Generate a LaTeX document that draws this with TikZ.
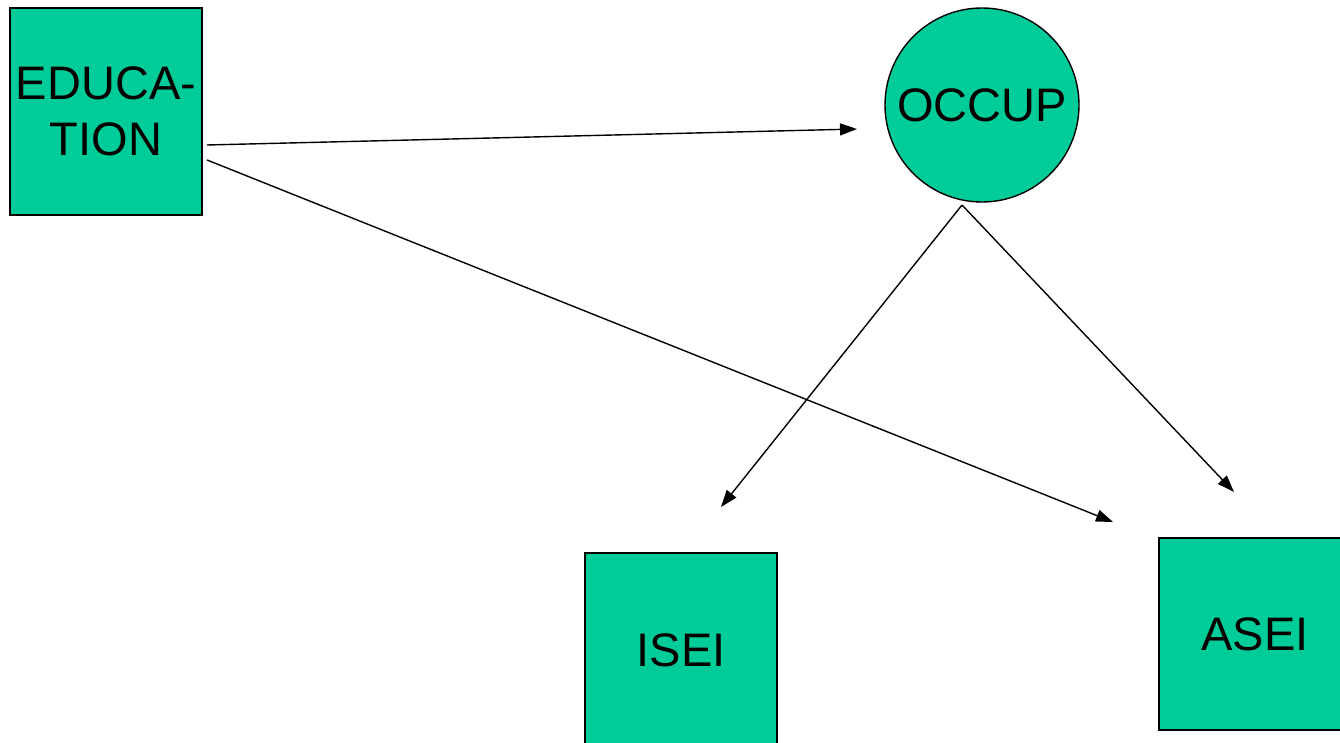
\documentclass[tikz,border=0pt]{standalone}
\usepackage{fontspec}
\setmainfont{Liberation Sans}
\usetikzlibrary{arrows.meta}
\definecolor{boxgreen}{RGB}{0,204,153}
\begin{document}
\begin{tikzpicture}[x=1pt,y=-1pt,
  varbox/.style={draw=black, line width=1.8pt, fill=boxgreen, rectangle,
    inner sep=0pt, outer sep=0pt, align=center,
    font=\fontsize{47}{56}\selectfont},
  latent/.style={draw=black, line width=1.4pt, fill=boxgreen, circle,
    minimum size=194pt, inner sep=0pt, outer sep=0pt,
    font=\fontsize{47}{56}\selectfont},
  path/.style={line width=1.4pt, -{Triangle[length=17pt,width=12pt]}}]
\useasboundingbox (0,0) rectangle (1340,743);
\clip (0,0) rectangle (1340,743);
\fill[white] (0,0) rectangle (1340,743);

% observed and latent variables
\node[varbox, minimum width=192pt, minimum height=207pt] (edu) at (106,111.5) {EDUCA-\\TION};
\node[latent] (occ) at (982,105) {OCCUP};
\node[varbox, minimum width=192pt, minimum height=194pt] (isei) at (681,650) {ISEI};
\node[varbox, minimum width=192pt, minimum height=192pt] (asei) at (1255,634) {ASEI};

% arrow end points, set apart from the variables
\coordinate (eduA) at (207,145);
\coordinate (eduB) at (207,160);
\coordinate (occOut) at (962,205);
\coordinate (occIn) at (857,129);
\coordinate (iseiIn) at (721,507);
\coordinate (aseiInA) at (1113,522);
\coordinate (aseiInB) at (1234,492);

% paths
\draw[path] (eduA) -- (occIn);
\draw[path] (eduB) -- (aseiInA);
\draw[path] (occOut) -- (iseiIn);
\draw[path] (occOut) -- (aseiInB);
\end{tikzpicture}
\end{document}
